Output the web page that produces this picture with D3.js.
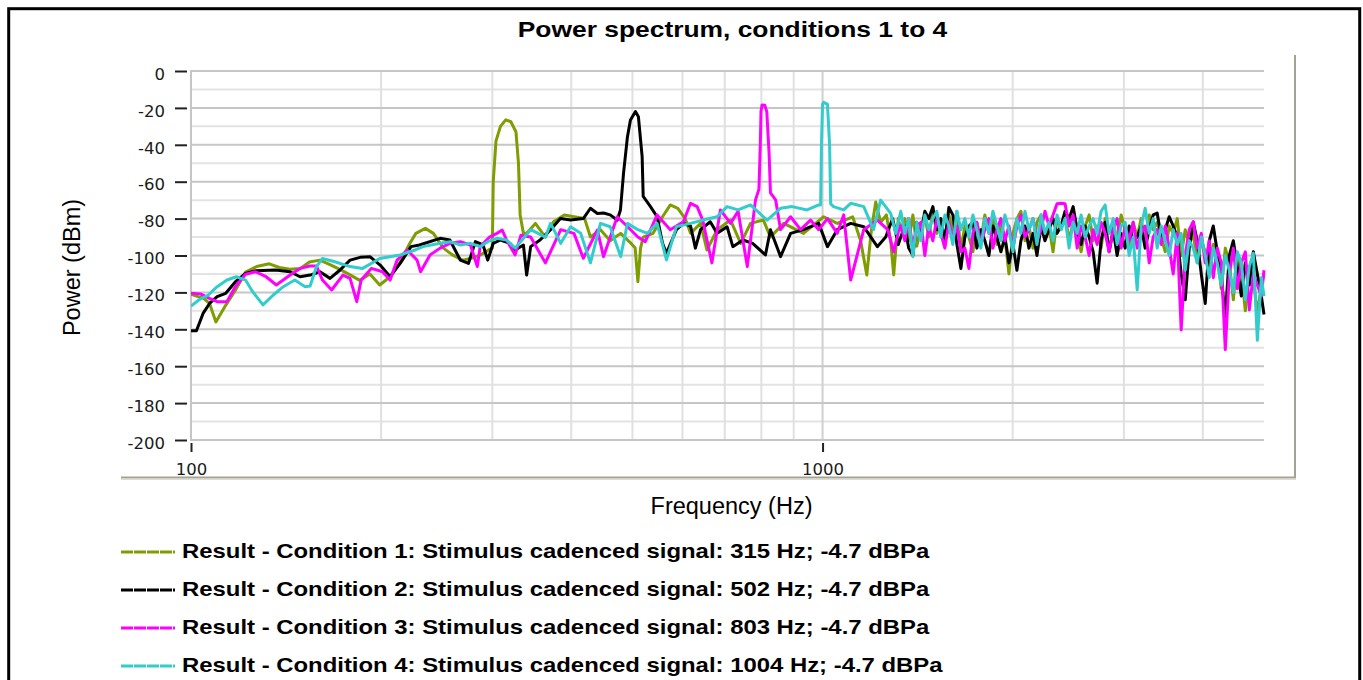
<!DOCTYPE html>
<html>
<head>
<meta charset="utf-8">
<script src="https://cdn.jsdelivr.net/npm/d3@7/dist/d3.min.js"></script>
<style>
  body { margin: 0; background: #fff; }
  svg { display: block; }
</style>
</head>
<body>
<div id="chart"></div>
<script>
// chart size
let width = 1363,
	height = 680;

let titleText = "Power spectrum, conditions 1 to 4";
let xTitle = "Frequency (Hz)";
let yTitle = "Power (dBm)";

let seriesNames = [
	"Result - Condition 1: Stimulus cadenced signal: 315 Hz; -4.7 dBPa",
	"Result - Condition 2: Stimulus cadenced signal: 502 Hz; -4.7 dBPa",
	"Result - Condition 3: Stimulus cadenced signal: 803 Hz; -4.7 dBPa",
	"Result - Condition 4: Stimulus cadenced signal: 1004 Hz; -4.7 dBPa"
];
let seriesColors = ["#7f9c00", "#000000", "#ff00ff", "#33cccc"];

let yTicks = [0, -20, -40, -60, -80, -100, -120, -140, -160, -180, -200];
let xTickLabels = [100, 1000];
let xGrid = [200, 300, 400, 500, 600, 700, 800, 900, 1000, 2000, 3000, 4000];

// low / mid band, [Hz, dB]
let cond1Low = [[100,-121],[102,-122],[104.5,-123],[107,-126],[109.5,-136],[113,-128],[117.5,-119],[122,-109],[127,-106],[133,-104.5],[138,-106.5],[143.5,-107.5],[149,-107],[154,-103.5],[160,-102.5],[166,-105],[172,-107.5],[178.6,-110.5],[185,-113.5],[192,-110],[199,-116],[206.7,-111.5],[214.4,-103.5],[222,-93.5],[227,-88],[235,-85.3],[242,-88],[251,-96],[259,-99.5],[269,-102.5],[278,-101.5],[288,-99.5],[296,-97],[300,-96],[301,-60],[304,-38],[309,-30],[315,-26.5],[321,-27.5],[327,-33],[330,-50],[332,-78],[336,-88],[340,-88],[351,-82.6],[364,-90],[375,-81.7],[390,-78],[404,-79],[420,-80],[429,-90],[445,-86],[461,-92],[479,-88],[496,-93],[505,-96],[510,-114.2],[515,-96],[520,-90],[539,-88],[558,-79],[574,-72.6],[590,-74.4],[606,-80],[618,-88],[641,-82.6],[656,-97],[681,-86],[715,-80.8],[742,-93.4],[769,-82.6],[806,-80.8],[827,-90],[868,-82.6],[933,-88],[1004,-79],[1055,-82.6],[1116,-79],[1149,-92],[1175,-110.6],[1195,-86],[1214,-71],[1236,-82],[1262,-78],[1282,-92],[1296,-110.5],[1318,-80]];

let cond2Low = [[100,-140.8],[102,-140.8],[104.5,-131.4],[107,-126],[110,-122.3],[113.5,-120.5],[117.6,-114.2],[122,-109.7],[126.7,-108.2],[136,-107.9],[143.5,-108.8],[148.8,-111.5],[154.4,-110.6],[160,-108.8],[166,-112.4],[172,-108],[178.6,-102.5],[185.3,-101],[192.2,-100.7],[199.3,-105.2],[206.7,-111.5],[214.4,-104.3],[223,-95.2],[230,-94.3],[248,-90.7],[257,-91.6],[267,-102.5],[275,-104.3],[282,-92.5],[290,-94.3],[295,-102.5],[301,-93.4],[309,-91.6],[320,-93.4],[326,-97],[336,-94.3],[340,-110.6],[345,-95.2],[357,-91.6],[371,-86],[384.5,-80],[399,-80.8],[418,-80],[429,-74.4],[440,-77.2],[450,-77],[461,-78],[473,-80.8],[478.6,-75.3],[484,-55.5],[491,-35.6],[496.4,-26.6],[505.5,-22],[511,-24.8],[518,-46.4],[520,-68],[534,-73.5],[547,-79],[558,-93.4],[566,-98.8],[587,-86],[602,-82.6],[618,-84],[629,-96],[641,-86],[664,-81.7],[681,-88],[706,-84.4],[721,-95.2],[748,-91.6],[775,-93.4],[812,-99.7],[827,-86],[858,-100.6],[890,-88],[933,-86],[986,-82.6],[1018,-95.2],[1055,-86],[1108,-82.6],[1162,-84.4],[1221,-95.2],[1259,-90],[1291,-80],[1318,-94]];

let cond3Low = [[100,-120.5],[103.5,-120.8],[107,-123.2],[110,-125],[114,-125],[117.5,-116.9],[122,-110.2],[126.5,-108.8],[131.5,-111.5],[136.5,-116],[143.5,-110.6],[148.8,-107],[154.4,-105.7],[158,-105.7],[161.5,-113.3],[167,-118.7],[174,-110.6],[178.6,-112.4],[183,-125],[186,-113.3],[193,-107],[201,-108.8],[206.7,-113.3],[212,-102.5],[220,-97],[228,-102.5],[231,-108.8],[239,-99.7],[248,-96],[257,-93.4],[267,-92.5],[277,-94.3],[284,-106],[287,-95.2],[297,-90],[305,-88],[311,-86.2],[316,-91.6],[326,-99.7],[333,-89],[345,-90],[364,-104],[385,-86],[404,-88],[418,-101.5],[440,-86.2],[450,-100.6],[473,-79],[490,-84],[510,-90],[524,-92.5],[547,-78],[574,-86],[602,-81.7],[618,-71.7],[633,-73.5],[646,-80.8],[668,-104],[689,-75.3],[715,-82.6],[735,-76],[760,-106],[783,-70],[793,-64],[797,-40],[799,-22],[802,-18.4],[810,-18.5],[816,-22],[823,-45],[827,-66],[835,-68],[843,-70],[858,-86],[890,-79],[923,-86],[957,-80.8],[986,-86],[1018,-80],[1055,-88],[1080,-78],[1108,-113.3],[1162,-86],[1221,-80.8],[1268,-86],[1296,-98],[1325,-84]];

let cond4Low = [[100,-127.4],[103,-124],[106.5,-121.4],[110,-116.9],[114,-113.3],[118,-111.5],[122,-113.3],[125.2,-119.6],[130,-126.8],[135,-121.4],[140,-116.9],[146,-113.3],[151.6,-116.9],[154.4,-116.5],[158,-106],[161.5,-101.6],[169,-103.4],[178.6,-106],[187,-107],[199,-101.6],[214.4,-99.7],[226.5,-97],[233,-95.2],[248,-93.4],[257.4,-92.5],[267,-94.3],[276.9,-93.4],[287,-95.2],[295,-92.5],[305,-90.7],[316,-91.6],[326,-96],[345,-86],[364,-90],[371,-82.6],[385,-93.4],[399,-84.4],[414,-88],[429,-104],[445,-82.6],[461,-84.4],[479,-100.6],[491,-82.6],[510,-86],[528,-88],[547,-82.6],[566,-102.4],[587,-84.4],[618,-82.6],[646,-80.8],[681,-79],[706,-73.5],[735,-75.3],[769,-72.6],[817,-80.8],[858,-74.4],[895,-73.5],[945,-75.3],[986,-72.6],[993,-72.6],[996,-40],[1000,-18],[1004,-17],[1011,-17.5],[1018,-18],[1026,-40],[1030,-72],[1041,-73.5],[1080,-75.3],[1108,-71.7],[1162,-73.5],[1204,-86],[1236,-70],[1282,-77.2],[1306,-88]];

// high band: shared frequencies (Hz) and the dB read at each of them
let hiFreq = [1330,1350,1369,1390,1410,1431,1452,1473,1495,1517,1539,1562,1585,1608,1632,1656,1680,1705,1730,1755,1781,1807,1834,1861,1888,1916,1944,1973,2002,2031,2061,2092,2122,2154,2185,2218,2250,2283,2317,2351,2386,2421,2457,2493,2530,2567,2605,2643,2682,2721,2761,2802,2843,2885,2927,2970,3014,3058,3103,3149,3195,3242,3290,3338,3387,3437,3488,3539,3591,3644,3697,3752,3807,3863,3920,3978,4036,4096,4156,4217,4279,4342,4406,4471,4536,4603,4671,4739,4809,4880,4952,5000];

let cond1Hi = [-86,-80,-92,-78,-95,-84,-79,-90,-76,-88, -80,-94,-78,-86,-76,-97,-84,-90,-98,-82, -92,-78,-88,-80,-94,-84,-90,-110,-88,-80, -76,-92,-84,-96,-82,-78,-90,-84,-98,-80, -86,-78,-92,-82,-88,-98,-84,-78,-92,-84, -96,-80,-88,-82,-92,-78,-86,-96,-82,-90, -80,-94,-78,-86,-82,-90,-98,-84,-88,-80, -100,-86,-94,-88,-104,-92,-98,-108,-94,-100, -118,-96,-104,-124,-100,-108,-130,-106,-112,-132, -116,-110];

let cond2Hi = [-90,-84,-96,-100,-82,-88,-76,-80,-73.5,-86, -80,-92,-74,-78,-94,-107,-90,-84,-82,-96, -86,-92,-100,-84,-90,-98,-90,-104,-94,-108, -92,-84,-96,-88,-100,-84,-92,-86,-80,-88, -84,-76,-80,-73.5,-86,-94,-84,-90,-98,-115, -92,-82,-98,-86,-100,-88,-96,-84,-92,-90, -84,-96,-86,-78,-77,-90,-86,-79,-84,-90, -110,-124,-96,-82,-92,-110,-126,-92,-84,-98, -112,-133,-100,-92,-106,-122,-104,-116,-98,-110, -122,-132];

let cond3Hi = [-84,-92,-80,-96,-86,-82,-100,-84,-92,-80, -88,-96,-82,-90,-84,-98,-96,-107,-88,-82, -94,-86,-80,-96,-86,-80,-92,-84,-96,-84, -78,-90,-86,-80,-92,-86,-76,-84,-78,-72, -71.7,-72,-84,-78,-96,-84,-90,-100,-86,-94, -82,-88,-98,-86,-80,-96,-84,-92,-82,-96, -88,-84,-104,-90,-86,-94,-84,-96,-110,-88, -140.4,-100,-86,-81.6,-96,-88,-104,-92,-112,-96, -104,-151,-110,-96,-118,-104,-98,-129.5,-110,-116, -122,-108];

let cond4Hi = [-76,-88,-80,-100.6,-82,-92,-78,-86,-80,-76, -90,-78,-84,-94,-76,-86,-80,-90,-78,-86, -96,-80,-88,-76,-84,-92,-78,-86,-98,-80, -88,-76,-86,-80,-94,-78,-88,-82,-92,-78, -86,-80,-96,-82,-88,-78,-90,-84,-80,-88, -76,-72.6,-88,-80,-94,-84,-82,-100,-90,-118.7, -84,-74.4,-88,-80,-96,-84,-92,-100,-86,-94, -88,-108,-92,-96,-104,-90,-100,-112,-96,-104, -116,-100,-108,-120,-98,-104,-124,-106,-98.8,-146, -112,-122];

let lowParts = [cond1Low, cond2Low, cond3Low, cond4Low];
let hiParts = [cond1Hi, cond2Hi, cond3Hi, cond4Hi];
let allSeries = lowParts.map((low, i) => low.concat(hiFreq.map((f, j) => [f, hiParts[i][j]])));

let plot = {left: 191, right: 1264, top: 71, bottom: 440};
let font = "'Liberation Sans', Arial, sans-serif";

let svg = d3.select("#chart").append("svg")
	.attr("width", width)
	.attr("height", height);

svg.append("rect").attr("width", width).attr("height", height).attr("fill", "#fff");

let xScale = d3.scaleLog()
	.domain([100, 5000])
	.range([plot.left, plot.right]);

let yScale = d3.scaleLinear()
	.domain([-200, 0])
	.range([plot.bottom, plot.top]);

// panel shadow (right and bottom edge)
svg.append("line")
	.attr("x1", 121).attr("x2", 1296)
	.attr("y1", 477.5).attr("y2", 477.5)
	.attr("stroke", "#a3a393").attr("stroke-width", 2);
svg.append("line")
	.attr("x1", 121).attr("x2", 1296)
	.attr("y1", 479.5).attr("y2", 479.5)
	.attr("stroke", "#dcdccf").attr("stroke-width", 1);
svg.append("line")
	.attr("x1", 1295).attr("x2", 1295)
	.attr("y1", 55).attr("y2", 478)
	.attr("stroke", "#a3a393").attr("stroke-width", 2);

// grid
let grid = svg.append("g").attr("class", "grid");
let minorY = d3.range(-190, 0, 20);
grid.selectAll(".minor-y")
	.data(minorY)
	.enter().append("line")
	.attr("x1", plot.left).attr("x2", plot.right)
	.attr("y1", d => yScale(d)).attr("y2", d => yScale(d))
	.attr("stroke", "#e3e3e3").attr("stroke-width", 2);
grid.selectAll(".vert")
	.data(xGrid)
	.enter().append("line")
	.attr("x1", d => xScale(d)).attr("x2", d => xScale(d))
	.attr("y1", plot.top).attr("y2", plot.bottom)
	.attr("stroke", d => d === 1000 ? "#cfcfcf" : "#e0e0e0").attr("stroke-width", 2);
grid.selectAll(".major-y")
	.data(yTicks)
	.enter().append("line")
	.attr("x1", plot.left).attr("x2", plot.right)
	.attr("y1", d => yScale(d)).attr("y2", d => yScale(d))
	.attr("stroke", "#c6c6c6").attr("stroke-width", 2);
grid.append("line")
	.attr("x1", plot.left).attr("x2", plot.left)
	.attr("y1", plot.top - 1).attr("y2", plot.bottom + 1)
	.attr("stroke", "#c6c6c6").attr("stroke-width", 2);

// axes
let yAxis = d3.axisLeft(yScale)
	.tickValues(yTicks)
	.tickFormat(d => String(d))
	.tickSizeInner(12)
	.tickSizeOuter(0)
	.tickPadding(10);
let gy = svg.append("g")
	.attr("transform", "translate(187,0)")
	.call(yAxis);
gy.select(".domain").remove();
gy.selectAll(".tick line").attr("stroke", "#222").attr("stroke-width", 2);
gy.selectAll(".tick text")
	.attr("dy", "0.5em")
	.attr("fill", "#1a1a1a")
	.style("font-family", "'DejaVu Sans', sans-serif")
	.style("font-size", "16.5px");

let xAxis = d3.axisBottom(xScale)
	.tickValues(xTickLabels)
	.tickFormat(d => String(d))
	.tickSizeInner(9)
	.tickSizeOuter(0)
	.tickPadding(11);
let gx = svg.append("g")
	.attr("transform", "translate(0,443)")
	.call(xAxis);
gx.select(".domain").remove();
gx.selectAll(".tick line").attr("stroke", "#222").attr("stroke-width", 2);
gx.selectAll(".tick text")
	.attr("fill", "#1a1a1a")
	.style("font-family", "'DejaVu Sans', sans-serif")
	.style("font-size", "16.5px");

// series
svg.append("clipPath").attr("id", "clip")
	.append("rect")
	.attr("x", plot.left).attr("y", plot.top - 2)
	.attr("width", plot.right - plot.left + 2).attr("height", plot.bottom - plot.top + 4);

let line = d3.line()
	.x(d => xScale(d[0]))
	.y(d => yScale(d[1]));

svg.append("g").attr("clip-path", "url(#clip)")
	.selectAll("path")
	.data(allSeries)
	.enter().append("path")
	.attr("d", line)
	.attr("fill", "none")
	.attr("stroke", (d, i) => seriesColors[i])
	.attr("stroke-width", 3)
	.attr("stroke-linejoin", "round");

// titles
svg.append("g")
	.attr("transform", "translate(732.5,37) scale(1.2,1)")
	.append("text")
	.attr("text-anchor", "middle")
	.style("font-family", font)
	.style("font-weight", "bold")
	.style("font-size", "22px")
	.text(titleText);

svg.append("text")
	.attr("x", 731.5).attr("y", 514)
	.attr("text-anchor", "middle")
	.style("font-family", font)
	.style("font-size", "23.5px")
	.text(xTitle);

svg.append("text")
	.attr("transform", "translate(80,267.5) rotate(-90)")
	.attr("text-anchor", "middle")
	.style("font-family", font)
	.style("font-size", "23.5px")
	.text(yTitle);

// legend
let legend = svg.selectAll(".legend")
	.data(seriesNames)
	.enter().append("g")
	.attr("class", "legend")
	.attr("transform", (d, i) => "translate(0," + (552 + i * 38) + ")");

legend.append("line")
	.attr("x1", 121).attr("x2", 175)
	.attr("y1", 0).attr("y2", 0)
	.attr("stroke", (d, i) => seriesColors[i])
	.attr("stroke-width", 3)
	.attr("stroke-dasharray", "12,1");

legend.append("g")
	.attr("transform", "translate(182,5.5) scale(1.226,1)")
	.append("text")
	.style("font-family", font)
	.style("font-weight", "bold")
	.style("font-size", "19.5px")
	.text(d => d);

// outer frame
svg.append("rect")
	.attr("x", 8.7).attr("y", 8.7)
	.attr("width", 1351).attr("height", 700)
	.attr("fill", "none")
	.attr("stroke", "#000")
	.attr("stroke-width", 3);
</script>
</body>
</html>
